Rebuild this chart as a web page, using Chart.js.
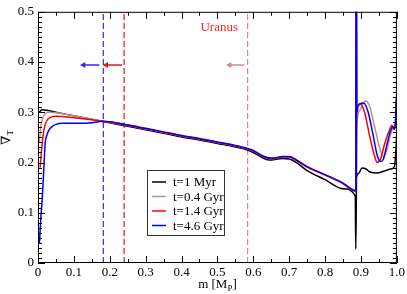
<!DOCTYPE html>
<html>
<head>
<meta charset="utf-8">
<script src="https://cdn.jsdelivr.net/npm/chart.js@4"></script>
<style>
  html, body { margin: 0; padding: 0; background: #fff; }
</style>
</head>
<body>
<canvas id="chart" width="407" height="294"></canvas>
<script>
// Temperature gradient profiles vs mass coordinate at four ages

const seriesLabels = ['t=1 Myr', 't=0.4 Gyr', 't=1.4 Gyr', 't=4.6 Gyr'];

const mBlack = [0.004, 0.011, 0.05, 0.1, 0.15, 0.2, 0.25, 0.3, 0.35, 0.4,
  0.45, 0.5, 0.55, 0.584, 0.6, 0.63, 0.645, 0.66, 0.68, 0.7,
  0.72, 0.75, 0.8, 0.85, 0.884, 0.8855, 0.887, 0.8875, 0.893, 0.903,
  0.912, 0.925, 0.945, 0.965, 0.982, 0.993, 0.997, 1.0];
const vBlack = [0.300, 0.305, 0.300, 0.293, 0.286, 0.279, 0.272, 0.265, 0.258, 0.251,
  0.245, 0.238, 0.231, 0.225, 0.220, 0.208, 0.205, 0.206, 0.208, 0.207,
  0.200, 0.184, 0.166, 0.148, 0.133, 0.028, 0.130, 0.172, 0.178, 0.189,
  0.188, 0.181, 0.179, 0.183, 0.187, 0.192, 0.220, 0.260];

const mPink = [0.004, 0.008, 0.012, 0.02, 0.03, 0.05, 0.1, 0.15, 0.2, 0.25,
  0.3, 0.35, 0.4, 0.45, 0.5, 0.55, 0.584, 0.6, 0.63, 0.645,
  0.66, 0.68, 0.7, 0.72, 0.75, 0.8, 0.85, 0.8855, 0.886, 0.8865,
  0.888, 0.898, 0.907, 0.915, 0.925, 0.94, 0.955, 0.963, 0.972, 0.982,
  0.99, 1.0];
const vPink = [0.24, 0.272, 0.287, 0.297, 0.300, 0.299, 0.293, 0.286, 0.280, 0.274,
  0.267, 0.260, 0.253, 0.247, 0.240, 0.233, 0.227, 0.223, 0.211, 0.208,
  0.208, 0.211, 0.211, 0.204, 0.191, 0.175, 0.158, 0.143, 0.5, 0.16,
  0.274, 0.305, 0.320, 0.322, 0.31, 0.265, 0.222, 0.212, 0.225, 0.255,
  0.27, 0.28];

const mRed = [0.006, 0.012, 0.018, 0.025, 0.035, 0.05, 0.1, 0.15, 0.18, 0.2,
  0.25, 0.3, 0.35, 0.4, 0.45, 0.5, 0.55, 0.584, 0.6, 0.63,
  0.645, 0.66, 0.68, 0.7, 0.72, 0.75, 0.8, 0.85, 0.8855, 0.886,
  0.8865, 0.888, 0.893, 0.899, 0.91, 0.925, 0.937, 0.945, 0.955, 0.965,
  0.978, 0.986, 0.992, 0.997, 1.0];
const vRed = [0.19, 0.24, 0.27, 0.284, 0.290, 0.292, 0.289, 0.285, 0.282, 0.280,
  0.274, 0.267, 0.260, 0.253, 0.247, 0.240, 0.233, 0.227, 0.223, 0.211,
  0.208, 0.208, 0.211, 0.211, 0.204, 0.191, 0.175, 0.158, 0.143, 0.5,
  0.16, 0.31, 0.314, 0.316, 0.3, 0.25, 0.215, 0.2, 0.208, 0.235,
  0.262, 0.274, 0.268, 0.29, 0.336];

const mBlue = [0.004, 0.008, 0.013, 0.017, 0.02, 0.025, 0.03, 0.04, 0.05, 0.07,
  0.1, 0.15, 0.18, 0.2, 0.25, 0.3, 0.35, 0.4, 0.45, 0.5,
  0.55, 0.584, 0.6, 0.63, 0.645, 0.66, 0.68, 0.7, 0.72, 0.75,
  0.8, 0.85, 0.8855, 0.886, 0.8865, 0.887, 0.8875, 0.888, 0.889, 0.892,
  0.9, 0.908, 0.92, 0.935, 0.945, 0.954, 0.962, 0.972, 0.982, 0.988,
  0.993, 0.996, 0.998, 1.0];
const vBlue = [0.04, 0.09, 0.142, 0.2, 0.239, 0.255, 0.264, 0.272, 0.276, 0.278,
  0.278, 0.279, 0.282, 0.281, 0.275, 0.268, 0.261, 0.254, 0.248, 0.241,
  0.234, 0.228, 0.224, 0.212, 0.209, 0.209, 0.212, 0.212, 0.205, 0.192,
  0.176, 0.159, 0.144, 0.55, 0.15, 0.55, 0.17, 0.55, 0.3, 0.313,
  0.318, 0.318, 0.3, 0.25, 0.215, 0.202, 0.206, 0.235, 0.262, 0.271,
  0.266, 0.28, 0.33, 0.33];

// boundaries (dashed) and arrows: blue, red, pink(Uranus)
const boundaryM = [0.182, 0.24, 0.584];
const arrowHeadM = [0.127, 0.19, 0.534];
const arrowTailM = [0.171, 0.234, 0.575];
const arrowV = 0.394;
const noteText = 'Uranus';
const noteM = 0.505;
const noteV = 0.468;

const SERIF = '"Liberation Serif", "DejaVu Serif", serif';
const COLORS = ['#000000', '#bc8f8f', '#ff0000', '#0000ff'];
const MARK_COLORS = ['#2a2aff', '#e01818', '#cc8c8c'];

function pts(ms, vs) {
  return ms.map((m, i) => ({ x: m, y: vs[i] }));
}

const curves = [
  [mBlack, vBlack], [mPink, vPink], [mRed, vRed], [mBlue, vBlue]
].map(([ms, vs], i) => ({
  label: seriesLabels[i],
  data: pts(ms, vs),
  borderColor: COLORS[i],
  borderWidth: 1.5,
  pointRadius: 0,
  cubicInterpolationMode: 'monotone',
  order: 3 - i
}));

const marks = [];
boundaryM.forEach((m, i) => {
  marks.push({
    label: 'boundary' + i,
    data: [{ x: m, y: 0 }, { x: m, y: 0.5 }],
    borderColor: MARK_COLORS[i],
    borderWidth: 1.2,
    borderDash: [6, 3],
    pointRadius: 0,
    order: 10
  });
  marks.push({
    label: 'arrow' + i,
    data: [{ x: arrowHeadM[i], y: arrowV }, { x: arrowTailM[i], y: arrowV }],
    borderColor: MARK_COLORS[i],
    backgroundColor: MARK_COLORS[i],
    borderWidth: 1.5,
    pointStyle: 'triangle',
    pointRotation: -90,
    pointRadius: [3.5, 0],
    pointBorderWidth: 0,
    order: 10
  });
});

const frameTicks = {
  id: 'frameTicks',
  afterDatasetsDraw(chart) {
    const { ctx, chartArea: a, scales: { x, y } } = chart;
    ctx.save();
    ctx.strokeStyle = '#000';
    ctx.lineWidth = 1;
    ctx.strokeRect(a.left + 0.5, a.top + 0.5, a.right - a.left - 1, a.bottom - a.top - 1);
    ctx.beginPath();
    for (let i = 0; i <= 20; i++) {
      const px = Math.round(x.getPixelForValue(i * 0.05)) + 0.5;
      const len = i % 2 ? 4 : 7;
      ctx.moveTo(px, a.bottom); ctx.lineTo(px, a.bottom - len);
      ctx.moveTo(px, a.top); ctx.lineTo(px, a.top + len);
    }
    for (let i = 0; i <= 50; i++) {
      const py = Math.round(y.getPixelForValue(i * 0.01)) + 0.5;
      const len = i % 10 ? 4 : 7;
      ctx.moveTo(a.left, py); ctx.lineTo(a.left + len, py);
      ctx.moveTo(a.right, py); ctx.lineTo(a.right - len, py);
    }
    ctx.stroke();
    ctx.restore();
  }
};

const annotations = {
  id: 'annotations',
  afterDraw(chart) {
    const { ctx, chartArea: a, scales: { x, y } } = chart;
    ctx.save();
    // Uranus note
    ctx.fillStyle = '#ff2020';
    ctx.font = '13px ' + SERIF;
    ctx.textAlign = 'center';
    ctx.textBaseline = 'middle';
    ctx.fillText(noteText, x.getPixelForValue(noteM), y.getPixelForValue(noteV));

    // legend
    const lx = 147.5, ly = 170.5, lw = 77, lh = 65;
    ctx.fillStyle = '#fff';
    ctx.fillRect(lx, ly, lw, lh);
    ctx.strokeStyle = '#333';
    ctx.lineWidth = 1;
    ctx.strokeRect(lx, ly, lw, lh);
    ctx.textAlign = 'left';
    seriesLabels.forEach((lab, i) => {
      const ry = 182 + i * 14.5;
      ctx.strokeStyle = COLORS[i];
      ctx.lineWidth = 1.5;
      ctx.beginPath();
      ctx.moveTo(152, ry); ctx.lineTo(166, ry);
      ctx.stroke();
      ctx.fillStyle = '#000';
      ctx.fillText(lab, 173, ry + 1);
    });

    // x title: m [M_P]
    ctx.fillStyle = '#000';
    ctx.textBaseline = 'alphabetic';
    ctx.textAlign = 'left';
    const big = '13px ' + SERIF, small = '9px ' + SERIF;
    ctx.font = big;
    const w1 = ctx.measureText('m [M').width;
    const w3 = ctx.measureText(']').width;
    ctx.font = small;
    const w2 = ctx.measureText('P').width;
    const cx = (a.left + a.right) / 2;
    let sx = cx - (w1 + w2 + w3) / 2;
    ctx.font = big; ctx.fillText('m [M', sx, 288);
    ctx.font = small; ctx.fillText('P', sx + w1, 291);
    ctx.font = big; ctx.fillText(']', sx + w1 + w2, 288);

    // y title: nabla_T rotated
    ctx.translate(10, (a.top + a.bottom) / 2);
    ctx.rotate(-Math.PI / 2);
    ctx.font = big;
    const n1 = ctx.measureText('\u2207').width;
    ctx.font = small;
    const n2 = ctx.measureText('T').width;
    const sy = -(n1 + n2) / 2;
    ctx.font = big; ctx.fillText('\u2207', sy, 0);
    ctx.font = small; ctx.fillText('T', sy + n1, 3);
    ctx.restore();
  }
};

new Chart(document.getElementById('chart'), {
  type: 'line',
  data: { datasets: curves.concat(marks) },
  options: {
    responsive: false,
    animation: false,
    layout: { padding: { left: 0, right: 4, top: 5, bottom: 0 } },
    plugins: { legend: { display: false }, tooltip: { enabled: false } },
    scales: {
      x: {
        type: 'linear', min: 0, max: 1,
        grid: { display: false, drawTicks: false, tickLength: 0 },
        border: { display: false },
        ticks: { stepSize: 0.1, padding: 2, color: '#000', font: { family: SERIF, size: 13 } },
        afterFit: (s) => { s.height = 31; }
      },
      y: {
        type: 'linear', min: 0, max: 0.5,
        grid: { display: false, drawTicks: false, tickLength: 0 },
        border: { display: false },
        ticks: { stepSize: 0.1, padding: 4, color: '#000', font: { family: SERIF, size: 13 } },
        afterFit: (s) => { s.width = 38; }
      }
    }
  },
  plugins: [frameTicks, annotations]
});
</script>
</body>
</html>
